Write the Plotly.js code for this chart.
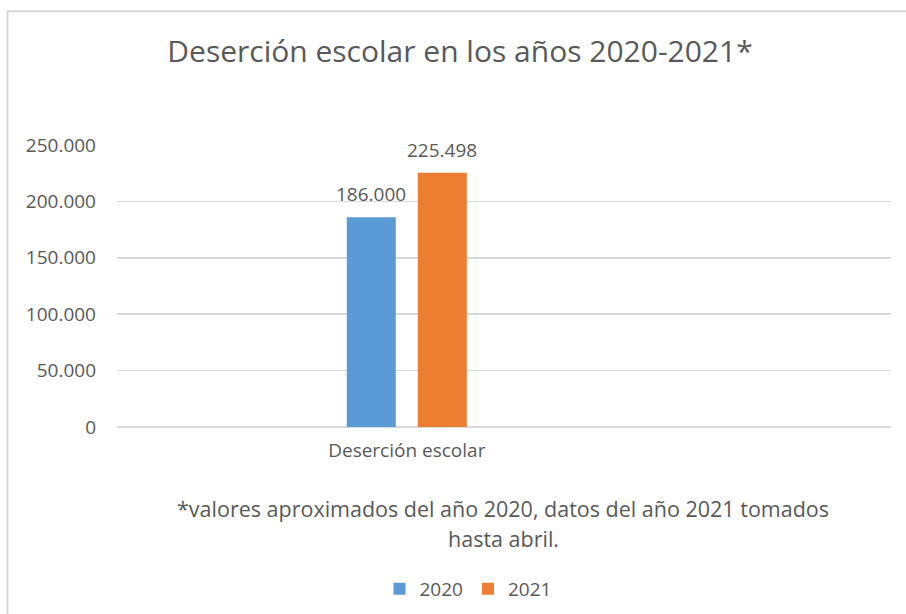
<!DOCTYPE html>
<html>
<head>
<meta charset="utf-8">
<script src="https://cdn.plot.ly/plotly-3.0.1.min.js"></script>
<style>
  html, body { margin: 0; padding: 0; background: #ffffff; }
  #chart { width: 906px; height: 614px; }
</style>
</head>
<body>
<div id="chart"></div>
<script>
// ---- data ----
const categories = ["Deserción escolar"];
const series2020 = [186000];
const series2021 = [225498];
const seriesNames = ["2020", "2021"];
const yTicks = [0, 50000, 100000, 150000, 200000, 250000];
const chartTitle = "Deserción escolar en los años 2020-2021*";
const noteLine1 = "*valores aproximados del año 2020, datos del año 2021 tomados";
const noteLine2 = "hasta abril.";

const textColor = "#595959";
const fontFam = "Open Sans, sans-serif";

const traces = [
  {
    type: "bar", name: seriesNames[0], x: categories, y: series2020,
    marker: { color: "#5B9BD5" },
    hoverinfo: "none"
  },
  {
    type: "bar", name: seriesNames[1], x: categories, y: series2021,
    marker: { color: "#ED7D31" },
    hoverinfo: "none"
  }
];

// data labels: placed through the axes at each bar's value
const fmtThousands = v => Math.round(v).toString().replace(/\B(?=(\d{3})+(?!\d))/g, ".");
const labelAnn = (cat, val, shift) => ({
  x: cat, y: val, xref: "x", yref: "y",
  text: fmtThousands(val), showarrow: false,
  xanchor: "center", yanchor: "middle",
  xshift: shift, yshift: 23,
  font: { family: fontFam, size: 19, color: textColor }
});
const dataLabels = [];
categories.forEach((c, i) => {
  dataLabels.push(labelAnn(c, series2020[i], -35.5));
  dataLabels.push(labelAnn(c, series2021[i], 35.5));
});

const layout = {
  width: 906, height: 614,
  margin: { l: 117, r: 15, t: 145, b: 187, pad: 0 },
  paper_bgcolor: "#ffffff", plot_bgcolor: "#ffffff",
  separators: ",.",
  font: { family: fontFam, color: textColor, size: 19 },
  title: {
    text: chartTitle,
    font: { family: fontFam, size: 30, color: textColor },
    xref: "container", yref: "container",
    x: 460 / 906, xanchor: "center",
    y: 1 - 51 / 614, yanchor: "middle"
  },
  barmode: "group",
  bargap: 0.51,
  bargroupgap: 0.31,
  xaxis: {
    type: "category",
    range: [-1, 1.671],
    showgrid: false, zeroline: false, showline: false,
    ticks: "", ticklabelstandoff: 10,
    tickfont: { family: fontFam, size: 19, color: textColor },
    fixedrange: true
  },
  yaxis: {
    range: [0, 250000],
    tickvals: yTicks,
    tickformat: ",",
    showgrid: true, gridcolor: "#D9D9D9", gridwidth: 1.5,
    zeroline: true, zerolinecolor: "#D9D9D9", zerolinewidth: 1.5,
    showline: false, ticks: "", ticklabelstandoff: 20,
    tickfont: { family: fontFam, size: 19, color: textColor },
    fixedrange: true
  },
  showlegend: true,
  legend: {
    orientation: "h",
    xref: "container", yref: "container",
    x: 468 / 906, xanchor: "center",
    y: 1 - 589 / 614, yanchor: "middle",
    font: { family: fontFam, size: 19, color: textColor },
    itemwidth: 30,
    traceorder: "normal"
  },
  annotations: dataLabels.concat([
    {
      text: noteLine1, xref: "paper", yref: "paper",
      x: (503 - 117) / 773.7, y: (426.7 - 508) / 281.7,
      xanchor: "center", yanchor: "middle", showarrow: false,
      font: { family: fontFam, size: 21.5, color: textColor }
    },
    {
      text: noteLine2, xref: "paper", yref: "paper",
      x: (503 - 117) / 773.7, y: (426.7 - 538) / 281.7,
      xanchor: "center", yanchor: "middle", showarrow: false,
      font: { family: fontFam, size: 21.5, color: textColor }
    }
  ]),
  shapes: [
    {
      type: "path", xref: "paper", yref: "paper",
      path: "M " + ((7.5 - 117) / 773.7) + " " + ((426.7 - 700) / 281.7) +
            " L " + ((7.5 - 117) / 773.7) + " " + ((426.7 - 11.5) / 281.7) +
            " L " + ((920 - 117) / 773.7) + " " + ((426.7 - 11.5) / 281.7),
      line: { color: "#D9D9D9", width: 2 }
    }
  ]
};

Plotly.newPlot("chart", traces, layout, { displayModeBar: false, staticPlot: true });
</script>
</body>
</html>
